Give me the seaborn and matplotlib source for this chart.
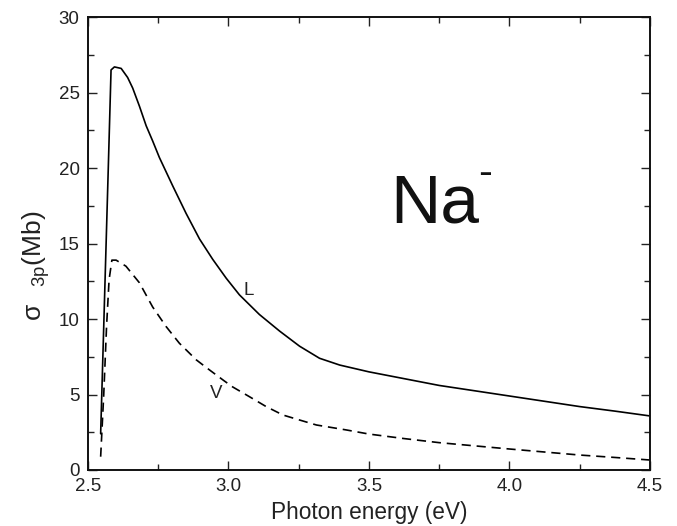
import numpy as np
import pandas as pd
import matplotlib
matplotlib.use("Agg")
import matplotlib.pyplot as plt
from matplotlib.ticker import MultipleLocator, FormatStrFormatter
import seaborn as sns

# length form (L) curve
energy_L = [2.545, 2.572, 2.582, 2.594, 2.618, 2.641, 2.659, 2.683, 2.707, 2.730,
            2.754, 2.802, 2.849, 2.897, 2.944, 2.992, 3.039, 3.11, 3.182, 3.253,
            3.324, 3.396, 3.5, 3.625, 3.75, 3.875, 4.0, 4.125, 4.25, 4.375, 4.5]
sigma_L = [2.4, 19.9, 26.5, 26.7, 26.6, 26.0, 25.3, 24.1, 22.8, 21.8,
           20.7, 18.8, 17.0, 15.3, 13.95, 12.7, 11.6, 10.3, 9.2, 8.2,
           7.4, 6.95, 6.5, 6.05, 5.6, 5.25, 4.9, 4.55, 4.2, 3.9, 3.58]

# velocity form (V) curve
energy_V = [2.545, 2.556, 2.566, 2.575, 2.585, 2.60, 2.635, 2.683, 2.73, 2.778,
            2.825, 2.885, 2.92, 2.956, 2.985, 3.015, 3.075, 3.134, 3.194, 3.253,
            3.313, 3.42, 3.5, 3.625, 3.75, 3.875, 4.0, 4.125, 4.25, 4.375, 4.5]
sigma_V = [0.88, 5.0, 9.5, 12.6, 13.9, 13.9, 13.5, 12.4, 10.8, 9.5,
           8.4, 7.3, 6.8, 6.3, 5.9, 5.5, 4.85, 4.2, 3.64, 3.31,
           2.98, 2.65, 2.38, 2.08, 1.81, 1.6, 1.39, 1.19, 0.99, 0.83, 0.66]

df_L = pd.DataFrame({"E": energy_L, "sigma": sigma_L})
df_V = pd.DataFrame({"E": energy_V, "sigma": sigma_V})

sns.set_style("ticks")
plt.rcParams['font.family'] = ['Liberation Sans', 'DejaVu Sans']

fig = plt.figure(figsize=(6.77, 5.26), dpi=100)
ax = fig.add_axes([0.130, 0.1065, 0.830, 0.861])

sns.lineplot(data=df_L, x="E", y="sigma", color="black", lw=1.2, sort=False,
             estimator=None, ax=ax)
sns.lineplot(data=df_V, x="E", y="sigma", color="black", lw=1.2, sort=False,
             estimator=None, ax=ax, linestyle=(0, (5.5, 3.5)))

ax.set_xlim(2.5, 4.5)
ax.set_ylim(0, 30)
ax.xaxis.set_major_locator(MultipleLocator(0.5))
ax.xaxis.set_minor_locator(MultipleLocator(0.25))
ax.yaxis.set_major_locator(MultipleLocator(5))
ax.yaxis.set_minor_locator(MultipleLocator(2.5))
ax.xaxis.set_major_formatter(FormatStrFormatter('%.1f'))
ax.tick_params(which='both', direction='in', top=True, right=True, width=1.0,
               labelsize=13.5, colors='#222222')
ax.tick_params(which='major', length=6.5, pad=6)
ax.tick_params(which='minor', length=4)
for s in ax.spines.values():
    s.set_linewidth(1.4)
    s.set_color('#111111')

ax.set_xlabel("Photon energy (eV)", fontsize=16.3, labelpad=4, color='#222222')
ax.set_ylabel(r'$\mathregular{σ_{\ \ \ 3p}}$(Mb)', fontsize=19, labelpad=5, color='#222222')
ax.yaxis.label.set_y(0.45)

ax.text(3.055, 11.6, "L", fontsize=13.5, color='#222222')
ax.text(2.935, 4.75, "V", fontsize=13.5, color='#222222')
ax.text(3.575, 16.4, "Na", fontsize=50, color='#111111')
ax.text(3.89, 19.6, "-", fontsize=30, color='#111111', va='center')

fig.savefig("out.png", dpi=100)
